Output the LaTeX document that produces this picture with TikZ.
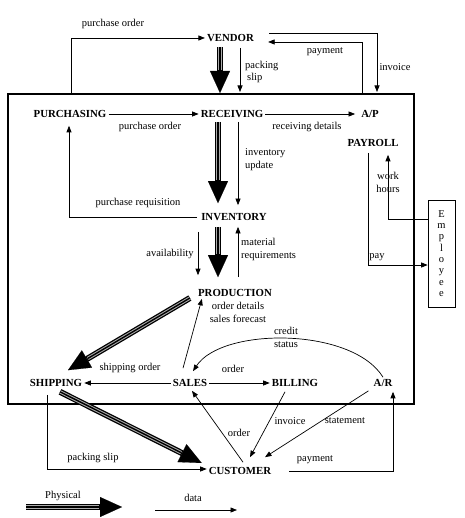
\documentclass[tikz,border=0pt]{standalone}
\usepackage{fontspec}
\setmainfont{Liberation Serif}
\usetikzlibrary{arrows.meta}
\begin{document}
\begin{tikzpicture}[x=1pt,y=-1pt,
  ent/.style={font=\fontsize{10.8}{13}\selectfont\bfseries, inner sep=2pt},
  lbl/.style={font=\fontsize{10.5}{13}\selectfont, inner sep=0pt},
  data/.style={draw, line width=0.7pt, -{Triangle[length=6.5pt,width=5pt]}},
  phys/.style={draw, line width=6pt, -{Triangle[length=22pt,width=20pt,line width=0.1pt]},
     postaction={draw=gray!65, line width=3.4pt, -, shorten >=23pt},
     postaction={draw=black, line width=1.4pt, -, shorten >=23pt}},
]
\useasboundingbox (0,0) rectangle (464,518);
\fill[white] (0,0) rectangle (464,518);

% organisation boundary
\node[draw, line width=1.5pt, minimum width=406pt, minimum height=310pt, inner sep=0pt] (org) at (211,249) {};

% entities
\node[ent] (vendor) at (230.5,38) {VENDOR};
\node[ent] (purch) at (70,114) {PURCHASING};
\node[ent] (recv) at (232,114) {RECEIVING};
\node[ent] (ap) at (370,114) {A/P};
\node[ent] (payroll) at (373,143) {PAYROLL};
\node[ent] (inv) at (234,217) {INVENTORY};
\node[ent] (prod) at (235,293) {PRODUCTION};
\node[ent] (ship) at (56,383) {SHIPPING};
\node[ent] (sales) at (190,383) {SALES};
\node[ent] (bill) at (295,383) {BILLING};
\node[ent] (ar) at (383,383) {A/R};
\node[ent] (cust) at (240,471) {CUSTOMER};
\node[draw, line width=0.7pt, minimum width=27pt, minimum height=107pt, inner sep=0pt, align=center,
  font=\fontsize{10.5}{11.3}\selectfont] (emp) at (441.5,253.5) {E\\m\\p\\l\\o\\y\\e\\e};

% free ends
\coordinate (poStart) at (71,94);
\coordinate (invEnd) at (377,92);
\coordinate (payStart) at (362,94);
\coordinate (physIn) at (220,93);
\coordinate (psEnd) at (240,92);

% vendor connectors
\draw[data] (poStart) |- (vendor.west);
\draw[data] ([xshift=13pt,yshift=5pt]vendor.east) -| (invEnd);
\draw[data] (payStart) |- ([xshift=12pt,yshift=-4pt]vendor.east);
\draw[phys] ([xshift=-10.5pt,yshift=-3pt]vendor.south) -- (physIn);
\draw[data] ([xshift=9.5pt,yshift=-4pt]vendor.south) -- (psEnd);

% inside
\draw[data] (purch.east) -- (recv.west);
\draw[data, shorten >=4pt] (recv.east) -- (ap.west);
\draw[phys] ([xshift=-14pt,yshift=-2pt]recv.south) -- ([xshift=-16pt,yshift=8pt]inv.north);
\draw[data] ([xshift=6pt,yshift=-2pt]recv.south) -- ([xshift=4pt,yshift=6pt]inv.north);
\draw[data] ([xshift=-2pt]inv.west) -| ([xshift=-1pt,yshift=-6pt]purch.south);
\draw[phys] ([xshift=-16pt,yshift=-4pt]inv.south) -- ([xshift=-17pt,yshift=10pt]prod.north);
\draw[data] ([xshift=-36pt,yshift=-9pt]inv.south) -- ([xshift=-37pt,yshift=12pt]prod.north);
\draw[data] ([xshift=3pt,yshift=10pt]prod.north) -- ([xshift=4pt,yshift=-4pt]inv.south);
\draw[phys] ([xshift=-6pt,yshift=-5pt]prod.west) -- ([xshift=12pt,yshift=7pt]ship.north);
\draw[data] ([xshift=-7pt,yshift=9pt]sales.north) -- ([xshift=6pt]prod.south west);
\draw[data] (ar.north) .. controls (352,327) and (222,327) .. ([xshift=3pt,yshift=6pt]sales.north);
\draw[data] (sales.west) -- (ship.east);
\draw[data] (sales.east) -- (bill.west);

% customer
\draw[data] ([xshift=3pt,yshift=3pt]cust.north) -- ([xshift=2pt,yshift=-2pt]sales.south);
\draw[data] ([xshift=-10pt,yshift=-3pt]bill.south) -- ([xshift=10pt,yshift=8pt]cust.north);
\draw[data] ([xshift=-3pt,yshift=-2pt]ar.south west) -- ([xshift=25pt,yshift=8pt]cust.north);
\draw[data] ([xshift=16pt]cust.east) -| ([xshift=10pt,yshift=-3pt]ar.south);
\draw[phys] ([xshift=4pt,yshift=-3pt]ship.south) -- ([xshift=-5pt,yshift=8pt]cust.west);
\draw[data] ([xshift=-9pt,yshift=-6pt]ship.south) |- ([yshift=2pt]cust.west);

% payroll / employee
\draw[data] ([xshift=-5pt,yshift=-4pt]payroll.south) |- ([yshift=-11.5pt]emp.west);
\draw[data] ([yshift=34.5pt]emp.west) -| ([xshift=15pt,yshift=-6pt]payroll.south);

% labels
\node[lbl] (l1) at (113,24) {purchase order};
\node[lbl] (l2) at (325,52) {payment};
\node[lbl] (l3) at (395,67) {invoice};
\node[lbl, anchor=west, align=left] (l4) at (245,72) {packing\\[-1pt]\hspace{2pt}slip};
\node[lbl] (l5) at (150,127) {purchase order};
\node[lbl] (l6) at (307,127) {receiving details};
\node[lbl, anchor=west, align=left] (l7) at (245,160) {inventory\\update};
\node[lbl] (l8) at (138,203) {purchase requisition};
\node[lbl] (l9) at (170,254) {availability};
\node[lbl, anchor=west, align=left] (l10) at (241,249.5) {material\\requirements};
\node[lbl, align=center] (l11) at (388,182.5) {work\\hours};
\node[lbl] (l12) at (377,257) {pay};
\node[lbl, align=center] (l13) at (238,312) {order details\\sales forecast};
\node[lbl, align=center] (l14) at (286,337) {credit\\status};
\node[lbl] (l15) at (130,368) {shipping order};
\node[lbl] (l16) at (233,369) {order};
\node[lbl] (l17) at (239,433) {order};
\node[lbl] (l18) at (290,421) {invoice};
\node[lbl] (l19) at (345,421) {statement};
\node[lbl] (l20) at (93,458) {packing slip};
\node[lbl] (l21) at (315,460) {payment};

% legend
\coordinate (lp1) at (26,507);
\coordinate (lp2) at (122,507);
\coordinate (ld1) at (155,510);
\coordinate (ld2) at (237,510);
\draw[phys] (lp1) -- (lp2);
\draw[data] (ld1) -- (ld2);
\node[lbl] (l22) at (63,496) {Physical};
\node[lbl] (l23) at (193,498) {data};
\end{tikzpicture}
\end{document}
